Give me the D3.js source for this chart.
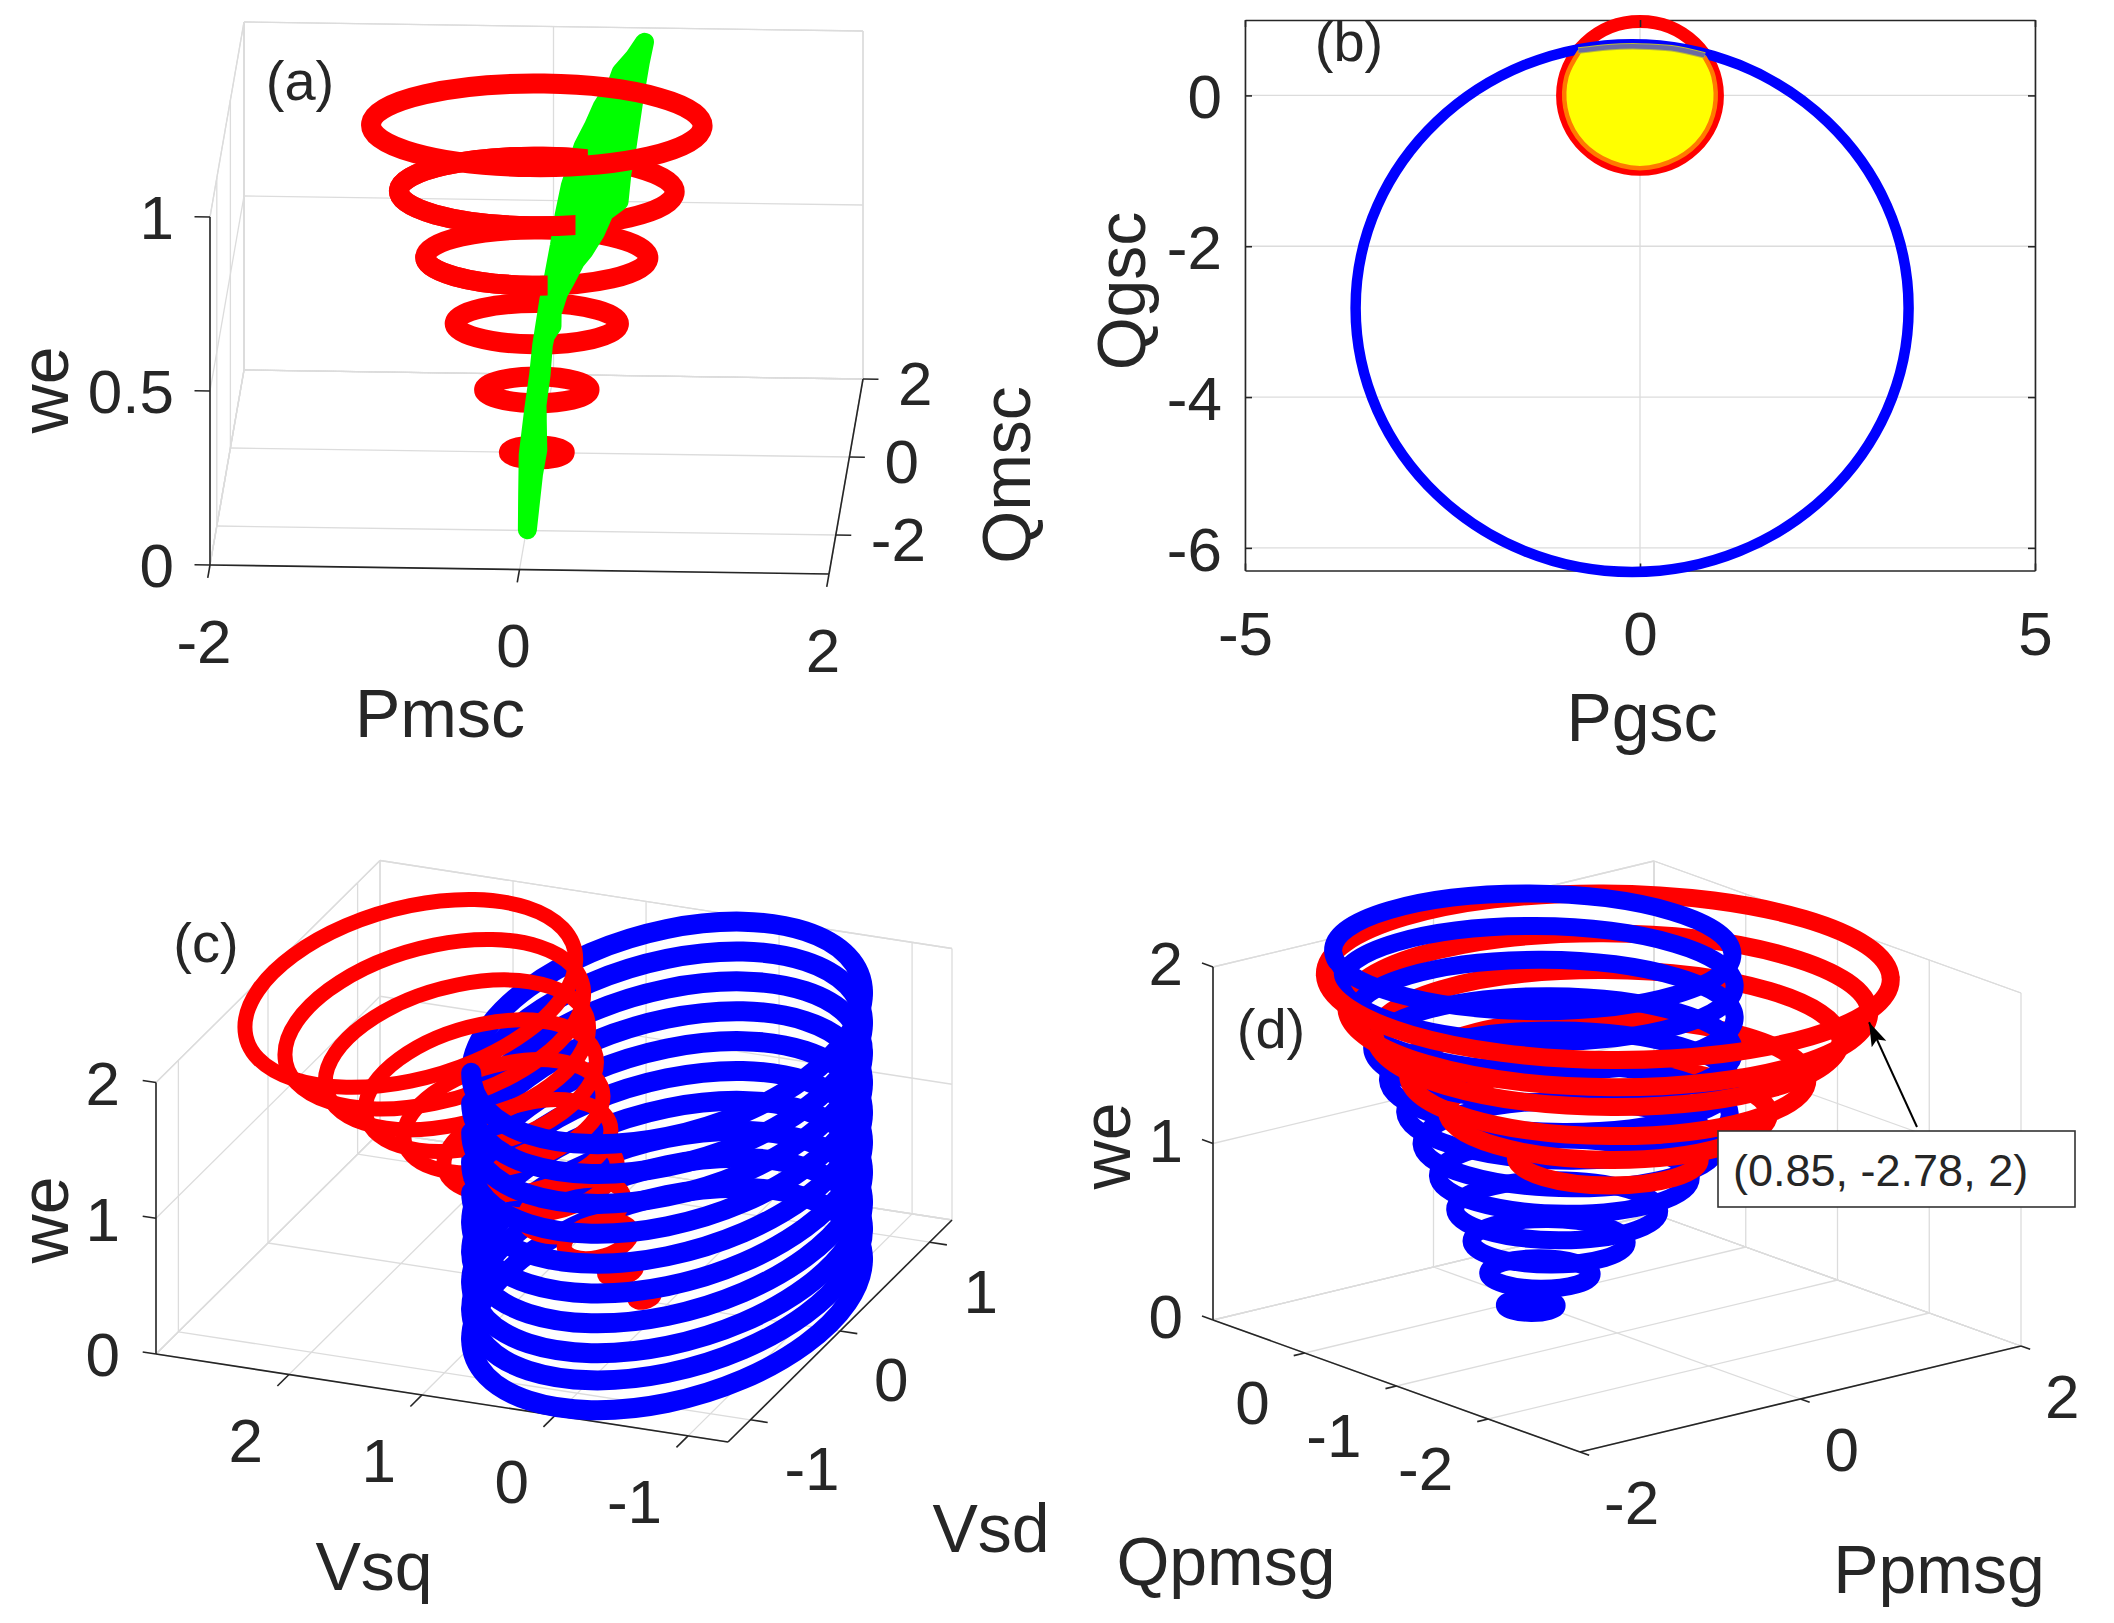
<!DOCTYPE html>
<html>
<head>
<meta charset="utf-8">
<title>Phase portraits</title>
<script src="https://cdn.jsdelivr.net/npm/d3@7"></script>
<style>
  body { margin: 0; background: #fff; }
  text { font-family: "Liberation Sans", Arial, sans-serif; fill: #262626; }
</style>
</head>
<body>
<svg id="chart" width="2114" height="1623"></svg>
<script>
// panel (a)
const aPTicks = [-2, 0, 2];
const aQTicks = [-2, 0, 2];
const aWeTicks = [0, 0.5, 1];
const aRingWe = [0, 0.18, 0.37, 0.56, 0.75, 0.94];
const aRingRadius = [0.18, 0.34, 0.53, 0.72, 0.89, 1.07];
const aGreenLeftP = [0.01, 0, -0.01, 0.01, 0.03, 0.04, 0.07, 0.09, 0.12, 0.14, 0.17, 0.23, 0.24, 0.30, 0.35, 0.44, 0.46, 0.54, 0.60];
const aGreenLeftQ = [-2.07, -1.8, -1.49, -1.14, -0.87, -0.64, -0.29, -0.13, 0.14, 0.37, 0.60, 0.85, 0.91, 1.07, 1.22, 1.40, 1.48, 1.60, 1.72];
const aGreenLeftWe = [0.01, 0.08, 0.16, 0.25, 0.32, 0.38, 0.47, 0.51, 0.58, 0.64, 0.70, 0.77, 0.78, 0.82, 0.86, 0.91, 0.93, 0.96, 0.99];
const aGreenRightP = [0.03, 0.05, 0.03, 0.045, 0.05, 0.06, 0.10, 0.096, 0.13, 0.17, 0.23, 0.28, 0.35, 0.40, 0.49, 0.50, 0.52, 0.55, 0.58];
const aGreenRightQ = [-1.63, -1.45, -1.11, -0.85, -0.64, -0.58, -0.5, -0.39, -0.23, -0.13, 0.02, 0.10, 0.23, 0.39, 0.49, 0.70, 0.88, 1.24, 1.57];
const aGreenRightWe = [0.12, 0.17, 0.26, 0.32, 0.38, 0.40, 0.42, 0.445, 0.485, 0.51, 0.55, 0.57, 0.61, 0.65, 0.67, 0.73, 0.77, 0.87, 0.95];

// panel (b)
const bPTicks = [-5, 0, 5];
const bQTicks = [0, -2, -4, -6];
const bBlueP = [-3.6, -0.1, 3.4, -0.1];
const bBlueQ = [-2.82, 0.68, -2.82, -6.32];
const bRedP = [-0.98, 0, 0.98, 0];
const bRedQ = [0, 0.98, 0, -0.98];
const bOrangeP = [-0.77, -0.93, -0.945, -0.79, -0.48, 0, 0.48, 0.79, 0.945, 0.93, 0.815];
const bOrangeQ = [0.58, 0.25, -0.165, -0.55, -0.83, -0.965, -0.83, -0.55, -0.165, 0.25, 0.51];
const bCapP = [-0.78, -0.4, 0, 0.4, 0.82];
const bCapQ = [0.595, 0.64, 0.65, 0.625, 0.53];

// panel (c)
const cQTicks = [2, 1, 0, -1];
const cDTicks = [-1, 0, 1];
const cWeTicks = [0, 1, 2];
const cRedWe = [0.03, 0.2, 0.4, 0.6, 0.8, 1.0, 1.2, 1.4, 1.6, 1.8, 2.0];
const cRedRadius = [0.06, 0.10, 0.21, 0.31, 0.41, 0.52, 0.62, 0.72, 0.82, 0.93, 1.03];
const cRedCenterQ = [0.17, 0.35, 0.52, 0.70, 0.87, 1.05, 1.23, 1.40, 1.58, 1.75, 1.93];
const cBlueWe = [0.04, 0.26, 0.46, 0.68, 0.90, 1.12, 1.34, 1.56, 1.78, 2.0];
const cBlueRadius = [1.22, 1.22, 1.22, 1.22, 1.22, 1.22, 1.22, 1.22, 1.22, 1.22];

// panel (d)
const dPTicks = [-2, 0, 2];
const dQTicks = [0, -1, -2];
const dWeTicks = [0, 1, 2];
const dRedWe = [0.97, 1.23, 1.43, 1.65, 1.81, 2.0];
const dRedRadius = [0.64, 1.12, 1.39, 1.62, 1.82, 1.97];
const dBlueWe = [0, 0.18, 0.36, 0.54, 0.73, 0.91, 1.09, 1.27, 1.45, 1.64, 1.82, 2.0];
const dBlueRadius = [0.18, 0.36, 0.54, 0.71, 0.88, 1.03, 1.13, 1.20, 1.26, 1.32, 1.37, 1.39];
const dBlueCenterP = [-0.05, 0, 0.05, 0.09, 0.13, 0.16, 0.15, 0.11, 0.07, 0.03, -0.01, -0.04];
const dBlueCenterQ = [-0.12, -0.16, -0.20, -0.24, -0.27, -0.29, -0.28, -0.25, -0.22, -0.18, -0.15, -0.13];
const dTip = [0.85, -2.78, 2];

const RED = '#ff0000', BLUE = '#0000ff', GREEN = '#00ff00';
const GRID = '#dcdcdc', AXIS = '#262626';
const TICK_SIZE = 62, LABEL_SIZE = 68, TAG_SIZE = 56;

const svg = d3.select('#chart');

// oblique box projection, each data axis is a scale onto its box edge
function makeProj(origin, xEnd, yEnd, zEnd, xDom, yDom, zDom) {
  const sx = d3.scaleLinear().domain(xDom).range([0, 1]);
  const sy = d3.scaleLinear().domain(yDom).range([0, 1]);
  const sz = d3.scaleLinear().domain(zDom).range([0, 1]);
  const proj = (x, y, z) => [0, 1].map(i => origin[i]
    + sx(x) * (xEnd[i] - origin[i])
    + sy(y) * (yEnd[i] - origin[i])
    + sz(z) * (zEnd[i] - origin[i]));
  proj.xDom = xDom; proj.yDom = yDom; proj.zDom = zDom;
  return proj;
}

const straight = d3.line();
const ringLine = d3.line().curve(d3.curveCardinalClosed.tension(-0.65));
const openLine = d3.line().curve(d3.curveCardinal.tension(-0.65));

// drop the first and last segment, they are only there to set the tangents
function midCurve(pts) {
  const segs = openLine(pts).split('C').slice(2, -1);
  return `M${pts[1]}C${segs.join('C')}`;
}

// ring corners in the order left, front, right, back on screen
function ringPoints(proj, dirs, cx, cy, r, z) {
  return dirs.map(d => proj(cx + r * d[0], cy + r * d[1], z));
}
const frontArc = p => midCurve([p[3], p[0], p[1], p[2], p[3]]);
const backArc = p => midCurve([p[1], p[2], p[3], p[0], p[1]]);

function stroke(g, d, color, width, cap) {
  return g.append('path').attr('d', d).attr('fill', 'none')
    .attr('stroke', color).attr('stroke-width', width)
    .attr('stroke-linecap', cap || 'butt').attr('stroke-linejoin', 'round');
}

function label(g, x, y, txt, size, opts = {}) {
  const t = g.append('text').attr('font-size', size)
    .attr('text-anchor', opts.anchor || 'middle').attr('dy', '0.36em').text(txt);
  if (opts.rotate) t.attr('transform', `translate(${x},${y}) rotate(${opts.rotate})`);
  else t.attr('x', x).attr('y', y);
}

function drawGrid(g, proj, xs, ys, zs, wallX, wallY) {
  const [x0, x1] = proj.xDom, [y0, y1] = proj.yDom, [z0, z1] = proj.zDom;
  const seg = (a, b) => stroke(g, straight([a, b]), GRID, 1.3);
  const ax = [x0, x1, ...xs], ay = [y0, y1, ...ys], az = [z0, z1, ...zs];
  ax.forEach(x => {
    seg(proj(x, wallY, z0), proj(x, wallY, z1));
    seg(proj(x, y0, z0), proj(x, y1, z0));
  });
  ay.forEach(y => {
    seg(proj(wallX, y, z0), proj(wallX, y, z1));
    seg(proj(x0, y, z0), proj(x1, y, z0));
  });
  az.forEach(z => {
    seg(proj(x0, wallY, z), proj(x1, wallY, z));
    seg(proj(wallX, y0, z), proj(wallX, y1, z));
  });
}

function drawAxisLine(g, a, b) {
  stroke(g, straight([a, b]), AXIS, 1.6);
}

// ---------- panel (a) ----------
function panelA() {
  const g = svg.append('g');
  const proj = makeProj([210, 565], [829, 574], [244, 370], [210, 217], [-2, 2], [-3, 2], [0, 1]);
  const dirs = [[-1, 0], [0, -1], [1, 0], [0, 1]];
  drawGrid(g, proj, aPTicks, aQTicks, aWeTicks, -2, 2);

  drawAxisLine(g, proj(-2, -3, 0), proj(2, -3, 0));
  drawAxisLine(g, proj(2, -3, 0), proj(2, 2, 0));
  drawAxisLine(g, proj(-2, -3, 0), proj(-2, -3, 1));
  aPTicks.forEach(p => {
    const a = proj(p, -3, 0);
    drawAxisLine(g, a, proj(p, -3.33, 0));
    label(g, a[0] - 6, a[1] + 75.5, p, TICK_SIZE);
  });
  aQTicks.forEach(q => {
    const a = proj(2, q, 0);
    drawAxisLine(g, a, proj(2.1, q, 0));
    label(g, a[0] + 35, a[1] + 4, q, TICK_SIZE, { anchor: 'start' });
  });
  aWeTicks.forEach(w => {
    const a = proj(-2, -3, w);
    drawAxisLine(g, a, proj(-2.1, -3, w));
    label(g, a[0] - 36, a[1], w, TICK_SIZE, { anchor: 'end' });
  });

  const rings = aRingWe.map((w, i) => ringPoints(proj, dirs, -0.02, 0, aRingRadius[i], w));
  rings.slice(0, 5).forEach(p => stroke(g, ringLine(p), RED, 20));

  const green = [
    ...aGreenLeftP.map((p, i) => proj(p, aGreenLeftQ[i], aGreenLeftWe[i])),
    ...aGreenRightP.map((p, i) => proj(p, aGreenRightQ[i], aGreenRightWe[i])).reverse()
  ];
  g.append('path').attr('d', straight(green) + 'Z').attr('fill', GREEN)
    .attr('stroke', GREEN).attr('stroke-width', 19).attr('stroke-linejoin', 'round');

  // parts of the rings that lie over the green band
  const overlay = [[4, 'front', 0.23], [4, 'back', 0.31], [3, 'front', 0.05]];
  overlay.forEach(([ring, side, cutP], i) => {
    const id = `a-cut-${i}`;
    svg.append('clipPath').attr('id', id).append('rect')
      .attr('x', 0).attr('y', 0).attr('height', 760)
      .attr('width', proj(cutP, 0, 0)[0]);
    const d = side === 'front' ? frontArc(rings[ring]) : backArc(rings[ring]);
    stroke(g, d, RED, 20).attr('clip-path', `url(#${id})`);
  });
  stroke(g, ringLine(rings[5]), RED, 20);

  label(g, 44, 390, 'we', LABEL_SIZE, { rotate: -90 });
  label(g, 440, 713, 'Pmsc', LABEL_SIZE);
  label(g, 1006, 475, 'Qmsc', LABEL_SIZE, { rotate: -90 });
  label(g, 300, 80, '(a)', TAG_SIZE);
}

// ---------- panel (b) ----------
function panelB() {
  const g = svg.append('g');
  const x = d3.scaleLinear().domain([-5, 5]).range([1245, 2035]);
  const y = d3.scaleLinear().domain([-6.3, 1]).range([570.5, 20]);
  const toPx = (a, b) => a.map((v, i) => [x(v), y(b[i])]);
  const ring = d3.line().curve(d3.curveCardinalClosed.tension(-0.65));
  const arc = d3.line().curve(d3.curveCatmullRom);
  const arcClosed = d3.line().curve(d3.curveCatmullRomClosed);

  bPTicks.forEach(v => stroke(g, straight([[x(v), y(1)], [x(v), y(-6.3)]]), GRID, 1.3));
  bQTicks.forEach(v => stroke(g, straight([[x(-5), y(v)], [x(5), y(v)]]), GRID, 1.3));

  const fmt = d => d;
  const axes = [
    g.append('g').attr('transform', 'translate(0,570.5)')
      .call(d3.axisBottom(x).tickValues(bPTicks).tickSize(-7).tickSizeOuter(0).tickPadding(40).tickFormat(fmt)),
    g.append('g').attr('transform', 'translate(1245,0)')
      .call(d3.axisLeft(y).tickValues(bQTicks).tickSize(-7).tickSizeOuter(0).tickPadding(23).tickFormat(fmt)),
    g.append('g').attr('transform', 'translate(0,20)')
      .call(d3.axisTop(x).tickValues(bPTicks).tickSize(-7).tickSizeOuter(0).tickFormat('')),
    g.append('g').attr('transform', 'translate(2035,0)')
      .call(d3.axisRight(y).tickValues(bQTicks).tickSize(-7).tickSizeOuter(0).tickFormat(''))
  ];
  axes.forEach(a => {
    a.attr('font-family', null).attr('font-size', TICK_SIZE);
    a.selectAll('path,line').attr('stroke', AXIS).attr('stroke-width', 1.6);
    a.selectAll('text').attr('fill', AXIS);
  });
  axes[1].selectAll('text').attr('dy', '0.36em');

  stroke(g, ring(toPx(bRedP, bRedQ)), RED, 13);
  stroke(g, ring(toPx(bBlueP, bBlueQ)), BLUE, 10.5);

  const orange = toPx(bOrangeP, bOrangeQ);
  const cap = toPx(bCapP, bCapQ);
  g.append('path').attr('d', arcClosed([...orange, ...cap.slice().reverse()]))
    .attr('fill', '#ffff00').attr('stroke', '#ffff00').attr('stroke-width', 1.5);
  stroke(g, arc(orange), '#ff7a00', 4.5);
  stroke(g, arc(cap), '#b9b93a', 6.5);
  stroke(g, arc(cap), '#6b6ba3', 4.5);

  g.append('g').attr('transform', 'translate(0,20)')
    .call(d3.axisTop(x).tickValues([0]).tickSize(-7).tickSizeOuter(0).tickFormat(''))
    .call(a => a.select('.domain').remove())
    .selectAll('line').attr('stroke', AXIS).attr('stroke-width', 1.6);

  label(g, 1121, 291, 'Qgsc', LABEL_SIZE, { rotate: -90 });
  label(g, 1642, 717, 'Pgsc', LABEL_SIZE);
  label(g, 1349, 41, '(b)', TAG_SIZE);
}

// ---------- panel (c) ----------
function panelC() {
  const g = svg.append('g');
  const proj = makeProj([156, 1354], [728, 1442], [380, 1132], [156, 1082.5], [3, -1.3], [-1.25, 1.25], [0, 2]);
  const dirs = [[0.83, -0.56], [-0.56, -0.83], [-0.83, 0.56], [0.56, 0.83]];
  drawGrid(g, proj, cQTicks, cDTicks, cWeTicks, 3, 1.25);

  drawAxisLine(g, proj(3, -1.25, 0), proj(-1.3, -1.25, 0));
  drawAxisLine(g, proj(-1.3, -1.25, 0), proj(-1.3, 1.25, 0));
  drawAxisLine(g, proj(3, -1.25, 0), proj(3, -1.25, 2));
  cQTicks.forEach(q => {
    const a = proj(q, -1.25, 0);
    drawAxisLine(g, a, proj(q, -1.38, 0));
    label(g, a[0] - 26, a[1] + 65, q, TICK_SIZE, { anchor: 'end' });
  });
  cDTicks.forEach(d => {
    const a = proj(-1.3, d, 0);
    drawAxisLine(g, a, proj(-1.43, d, 0));
    label(g, a[0] + 34, a[1] + 48, d, TICK_SIZE, { anchor: 'start' });
  });
  cWeTicks.forEach(w => {
    const a = proj(3, -1.25, w);
    drawAxisLine(g, a, proj(3.1, -1.25, w));
    label(g, a[0] - 36, a[1], w, TICK_SIZE, { anchor: 'end' });
  });

  const blue = cBlueWe.map((w, i) => ringPoints(proj, dirs, 0, 0, cBlueRadius[i], w));
  const red = cRedWe.map((w, i) => ringPoints(proj, dirs, cRedCenterQ[i], 0, cRedRadius[i], w));
  blue.forEach(p => stroke(g, backArc(p), BLUE, 20, 'round'));
  red.forEach(p => stroke(g, ringLine(p), RED, 15));
  blue.forEach(p => stroke(g, frontArc(p), BLUE, 20, 'round'));

  label(g, 44, 1220, 'we', LABEL_SIZE, { rotate: -90 });
  label(g, 374, 1566, 'Vsq', LABEL_SIZE);
  label(g, 991, 1528, 'Vsd', LABEL_SIZE);
  label(g, 206, 942, '(c)', TAG_SIZE);
}

// ---------- panel (d) ----------
function panelD() {
  const g = svg.append('g');
  const proj = makeProj([1213, 1320], [1654, 1214], [1580, 1452], [1213, 967], [-2, 2], [1, -3], [0, 2]);
  const dirs = [[-0.77, 0.64], [-0.627, -0.778], [0.77, -0.64], [0.627, 0.778]];
  drawGrid(g, proj, dPTicks, dQTicks, dWeTicks, 2, 1);

  drawAxisLine(g, proj(-2, 1, 0), proj(-2, -3, 0));
  drawAxisLine(g, proj(-2, -3, 0), proj(2, -3, 0));
  drawAxisLine(g, proj(-2, 1, 0), proj(-2, 1, 2));
  dQTicks.forEach(q => {
    const a = proj(-2, q, 0);
    drawAxisLine(g, a, proj(-2.1, q, 0));
    label(g, a[0] - 35, a[1] + 49, q, TICK_SIZE, { anchor: 'end' });
  });
  dPTicks.forEach(p => {
    const a = proj(p, -3, 0);
    drawAxisLine(g, a, proj(p, -3.1, 0));
    label(g, a[0] + 24, a[1] + 49.5, p, TICK_SIZE, { anchor: 'start' });
  });
  dWeTicks.forEach(w => {
    const a = proj(-2, 1, w);
    drawAxisLine(g, a, proj(-2, 1.12, w));
    label(g, a[0] - 30, a[1] - 4, w, TICK_SIZE, { anchor: 'end' });
  });

  const red = dRedWe.map((w, i) => ringPoints(proj, dirs, 0, -0.9, dRedRadius[i], w));
  const blue = dBlueWe.map((w, i) => ringPoints(proj, dirs, dBlueCenterP[i], dBlueCenterQ[i], dBlueRadius[i], w));
  red.forEach(p => stroke(g, backArc(p), RED, 18));
  blue.forEach(p => stroke(g, ringLine(p), BLUE, 18));
  red.forEach(p => stroke(g, frontArc(p), RED, 18, 'round'));

  // data tip
  g.append('rect').attr('x', 1718).attr('y', 1131).attr('width', 357).attr('height', 76)
    .attr('fill', '#fff').attr('stroke', '#333').attr('stroke-width', 1.6);
  g.append('text').attr('x', 1733).attr('y', 1170).attr('dy', '0.36em').attr('font-size', 45)
    .text(`(${dTip.join(', ')})`);
  const tip = proj(...dTip);
  const head = [tip[0] - 5, tip[1] + 6];
  svg.append('marker').attr('id', 'tip-head').attr('markerUnits', 'userSpaceOnUse')
    .attr('markerWidth', 26).attr('markerHeight', 20).attr('refX', 24).attr('refY', 10)
    .attr('orient', 'auto')
    .append('path').attr('d', 'M0,2L24,10L0,18L5,10Z').attr('fill', '#000');
  stroke(g, straight([[1917, 1127], head]), '#000', 2).attr('marker-end', 'url(#tip-head)');

  label(g, 1105.5, 1146, 'we', LABEL_SIZE, { rotate: -90 });
  label(g, 1226, 1561, 'Qpmsg', LABEL_SIZE);
  label(g, 1939, 1569, 'Ppmsg', LABEL_SIZE);
  label(g, 1271, 1028, '(d)', TAG_SIZE);
}

panelA();
panelB();
panelC();
panelD();
</script>
</body>
</html>
